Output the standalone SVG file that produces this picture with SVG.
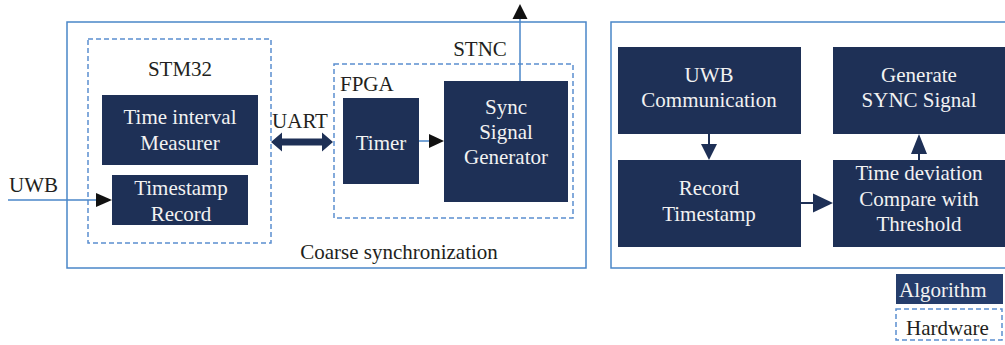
<svg xmlns="http://www.w3.org/2000/svg" width="1005" height="345" viewBox="0 0 1005 345" font-family="Liberation Serif, serif" font-size="21">
  <style>
    .frame { fill: none; stroke: #4a86c8; stroke-width: 1.5; }
    .dash { fill: none; stroke: #5b8fd0; stroke-width: 1.5; stroke-dasharray: 5 3; }
    .block { fill: #1e3056; }
    .in { fill: #f2f2f2; text-anchor: middle; }
    .out { fill: #231f20; }
    .wire { fill: none; stroke: #4a86c8; stroke-width: 1.5; }
    .flow { fill: none; stroke: #1e3056; stroke-width: 2; }
    .head { fill: #111; }
    .nhead { fill: #1e3056; }
  </style>

  <!-- hardware panel -->
  <g id="coarse-sync">
    <rect class="frame" x="67" y="22" width="519" height="246"/>
    <text class="out" x="399" y="259" text-anchor="middle">Coarse synchronization</text>
  </g>
  <g id="stm32">
    <rect class="dash" x="88" y="39" width="183" height="204"/>
    <text class="out" x="180" y="76" text-anchor="middle">STM32</text>
  </g>
  <g id="time-interval-measurer">
    <rect class="block" x="102" y="95" width="156" height="70"/>
    <text class="in" x="180" y="124">Time interval</text>
    <text class="in" x="180" y="150">Measurer</text>
  </g>
  <g id="timestamp-record">
    <rect class="block" x="112" y="175" width="136" height="50"/>
    <text class="in" x="181" y="195">Timestamp</text>
    <text class="in" x="181" y="221">Record</text>
  </g>
  <g id="stnc">
    <rect class="dash" x="334" y="64" width="239" height="154"/>
    <text class="out" x="480" y="56" text-anchor="middle">STNC</text>
    <text class="out" x="340" y="91">FPGA</text>
  </g>
  <g id="timer">
    <rect class="block" x="343" y="98" width="76" height="86"/>
    <text class="in" x="381" y="150">Timer</text>
  </g>
  <g id="sync-signal-generator">
    <rect class="block" x="444" y="81" width="124" height="121"/>
    <text class="in" x="506" y="114">Sync</text>
    <text class="in" x="506" y="139">Signal</text>
    <text class="in" x="506" y="164">Generator</text>
  </g>
  <g id="uwb-input">
    <text class="out" x="9" y="192">UWB</text>
  </g>
  <g id="uart-label">
    <text class="out" x="300" y="128" text-anchor="middle">UART</text>
  </g>

  <!-- algorithm panel -->
  <g id="algorithm-panel">
    <rect class="frame" x="611" y="22" width="400" height="246"/>
  </g>
  <g id="uwb-communication">
    <rect class="block" x="618" y="47" width="183" height="87"/>
    <text class="in" x="709" y="82">UWB</text>
    <text class="in" x="709" y="107">Communication</text>
  </g>
  <g id="record-timestamp">
    <rect class="block" x="618" y="160" width="183" height="87"/>
    <text class="in" x="709" y="195">Record</text>
    <text class="in" x="709" y="221">Timestamp</text>
  </g>
  <g id="generate-sync">
    <rect class="block" x="833" y="47" width="172" height="87"/>
    <text class="in" x="919" y="82">Generate</text>
    <text class="in" x="919" y="107">SYNC Signal</text>
  </g>
  <g id="time-deviation">
    <rect class="block" x="833" y="160" width="172" height="87"/>
    <text class="in" x="919" y="180">Time deviation</text>
    <text class="in" x="919" y="206">Compare with</text>
    <text class="in" x="919" y="231">Threshold</text>
  </g>

  <!-- legend -->
  <g id="legend-algorithm">
    <rect x="896" y="274" width="107" height="30" fill="#253d6b"/>
    <text x="899" y="297" fill="#f2f2f2">Algorithm</text>
  </g>
  <g id="legend-hardware">
    <rect class="dash" x="896" y="309" width="106" height="31"/>
    <text class="out" x="906" y="335">Hardware</text>
  </g>

  <!-- connectors -->
  <g id="connectors">
    <line class="wire" x1="8" y1="200" x2="97" y2="200"/>
    <polygon class="head" points="96,193 112,200 96,207"/>

    <polygon fill="#1e3056" points="271,142 282,132.5 282,138.5 322,138.5 322,132.5 333,142 322,151.5 322,145.5 282,145.5 282,151.5"/>

    <line class="wire" x1="419" y1="141" x2="430" y2="141"/>
    <polygon class="head" points="429,134 444,141 429,148"/>

    <line class="wire" x1="520" y1="81" x2="520" y2="18"/>
    <polygon class="head" points="512.5,19 527.5,19 520,4"/>

    <line class="flow" x1="709" y1="134" x2="709" y2="145"/>
    <polygon class="nhead" points="701,144 717,144 709,160"/>

    <line class="flow" x1="801" y1="203" x2="814" y2="203"/>
    <polygon class="nhead" points="813,193.5 833,203 813,212.5"/>

    <line class="flow" x1="919" y1="160" x2="919" y2="153"/>
    <polygon class="nhead" points="911,154 927,154 919,134"/>
  </g>
</svg>
